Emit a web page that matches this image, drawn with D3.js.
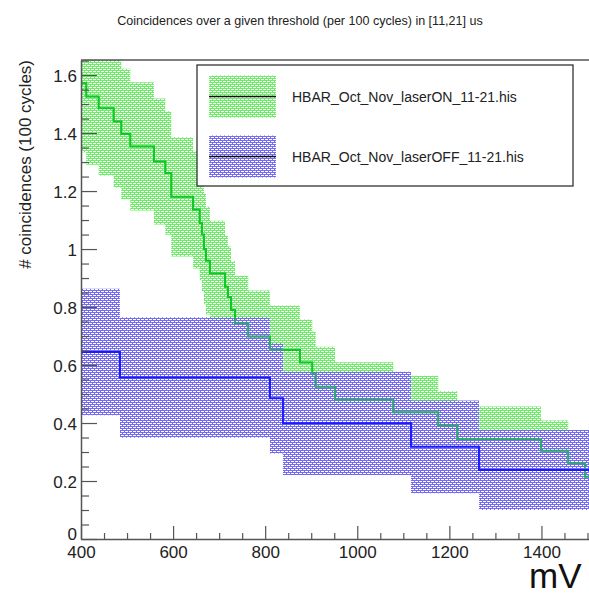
<!DOCTYPE html>
<html>
<head>
<meta charset="utf-8">
<script src="https://cdnjs.cloudflare.com/ajax/libs/d3/7.8.5/d3.min.js"></script>
<style>
  html, body { margin: 0; padding: 0; background: #ffffff; }
  svg { display: block; font-family: "Liberation Sans", Arial, Helvetica, sans-serif; }
</style>
</head>
<body>
<script>
// ---------------- DATA ----------------
const chartTitle = "Coincidences over a given threshold (per 100 cycles) in [11,21] us";
const yTitle = "# coincidences (100 cycles)";
const xTitle = "mV";
const seriesNames = ["HBAR_Oct_Nov_laserON_11-21.his", "HBAR_Oct_Nov_laserOFF_11-21.his"];

// laser ON (green): bin edges in mV, bin contents, bin errors
const onEdges = [400, 411.5, 438.4, 471.0, 487.5, 507.1, 558.5, 583.1, 596.1, 643.2, 657.8,
                 662.8, 667.1, 671.5, 680.1, 712.7, 719.2, 725.7, 734.4, 763.3, 810.4,
                 875.6, 902.3, 909.7, 951.6, 1078.2, 1175.9, 1217.2, 1398.9, 1458.2, 1494.5, 1525];
const onValues = [1.572, 1.526, 1.486, 1.440, 1.397, 1.354, 1.302, 1.262, 1.180, 1.136,
                  1.090, 1.050, 1.000, 0.960, 0.916, 0.870, 0.835, 0.790, 0.744, 0.698,
                  0.652, 0.609, 0.571, 0.525, 0.479, 0.437, 0.391, 0.345, 0.304, 0.261, 0.215];
const onErrors = [0.238, 0.235, 0.232, 0.228, 0.225, 0.221, 0.217, 0.213, 0.206, 0.203,
                  0.198, 0.195, 0.190, 0.186, 0.182, 0.177, 0.174, 0.169, 0.164, 0.159,
                  0.153, 0.148, 0.144, 0.138, 0.131, 0.126, 0.119, 0.112, 0.105, 0.097, 0.088];

// laser OFF (blue)
const offEdges = [400, 484.7, 810.4, 838.6, 1116.6, 1264.3, 1525];
const offValues = [0.645, 0.557, 0.485, 0.399, 0.318, 0.238];
const offErrors = [0.218, 0.208, 0.190, 0.178, 0.160, 0.138];

const xDomain = [400, 1525];
const yDomain = [0, 1.652];
const xMajorTicks = [400, 600, 800, 1000, 1200, 1400];
const xMinorTicks = [450, 500, 550, 650, 700, 750, 850, 900, 950, 1050, 1100, 1150, 1250, 1300, 1350, 1450, 1500];
const yMajorTicks = [0, 0.2, 0.4, 0.6, 0.8, 1.0, 1.2, 1.4, 1.6];
const yMinorTicks = [0.05, 0.1, 0.15, 0.25, 0.3, 0.35, 0.45, 0.5, 0.55, 0.65, 0.7, 0.75,
                     0.85, 0.9, 0.95, 1.05, 1.1, 1.15, 1.25, 1.3, 1.35, 1.45, 1.5, 1.55, 1.65];
const yTickLabels = ["0", "0.2", "0.4", "0.6", "0.8", "1", "1.2", "1.4", "1.6"];
const xTickLabels = ["400", "600", "800", "1000", "1200", "1400"];

// ---------------- CHART ----------------
const W = 589, H = 596;
const plot = { left: 81, right: 599, top: 60, bottom: 539 };

const svg = d3.select("body").append("svg").attr("width", W).attr("height", H);
const defs = svg.append("defs");

function makePattern(id, color) {
  const p = defs.append("pattern").attr("id", id)
    .attr("patternUnits", "userSpaceOnUse")
    .attr("width", 4).attr("height", 4);
  // coloured mesh with transparent holes (ROOT-like pattern fill)
  p.append("path")
    .attr("d", "M0,0H4V1H0Z M2,1H3V2H2Z M0,2H4V3H0Z M0,3H1V4H0Z")
    .attr("fill", color);
  return "url(#" + id + ")";
}
const greenFill = makePattern("patGreen", "rgb(110,238,104)");
const blueFill = makePattern("patBlue", "rgb(118,108,242)");

defs.append("clipPath").attr("id", "plotClip")
  .append("rect").attr("x", plot.left).attr("y", plot.top)
  .attr("width", plot.right - plot.left).attr("height", plot.bottom - plot.top);

const x = d3.scaleLinear().domain(xDomain).range([plot.left, plot.right]);
const y = d3.scaleLinear().domain(yDomain).range([plot.bottom, plot.top]);

function binPoints(edges, vals, errs) {
  const pts = vals.map((v, i) => ({ x: edges[i], v: v, e: errs[i] }));
  pts.push({ x: edges[edges.length - 1], v: vals[vals.length - 1], e: errs[errs.length - 1] });
  return pts;
}
const onPts = binPoints(onEdges, onValues, onErrors);
const offPts = binPoints(offEdges, offValues, offErrors);

const area = d3.area().curve(d3.curveStepAfter)
  .x(d => x(d.x)).y0(d => y(d.v - d.e)).y1(d => y(d.v + d.e));
const line = d3.line().curve(d3.curveStepAfter)
  .x(d => x(d.x)).y(d => y(d.v));

const g = svg.append("g").attr("clip-path", "url(#plotClip)");
g.append("path").datum(onPts).attr("d", area).attr("fill", greenFill);
g.append("path").datum(onPts).attr("d", line).attr("fill", "none")
  .attr("stroke", "#10d010").attr("stroke-width", 2);
g.append("path").datum(offPts).attr("d", area).attr("fill", blueFill);
// green line seen through the blue pattern
g.append("path").datum(onPts).attr("d", line).attr("fill", "none")
  .attr("stroke", "#10c040").attr("stroke-width", 1.8).attr("opacity", 0.55);
g.append("path").datum(offPts).attr("d", line).attr("fill", "none")
  .attr("stroke", "#1a1aff").attr("stroke-width", 2);

// frame top
svg.append("line").attr("x1", plot.left).attr("x2", W).attr("y1", plot.top).attr("y2", plot.top)
  .attr("stroke", "#555").attr("stroke-width", 1.5);

// axes
const axisColor = "#555";
const fontSize = 17;

const xAxisMajor = d3.axisBottom(x).tickValues(xMajorTicks).tickSizeInner(-13).tickSizeOuter(0)
  .tickFormat((d, i) => xTickLabels[i]).tickPadding(19);
const xAxisMinor = d3.axisBottom(x).tickValues(xMinorTicks).tickSizeInner(-6).tickSizeOuter(0).tickFormat("");
const yAxisMajor = d3.axisLeft(y).tickValues(yMajorTicks).tickSizeInner(-16).tickSizeOuter(0)
  .tickFormat((d, i) => yTickLabels[i]).tickPadding(20);
const yAxisMinor = d3.axisLeft(y).tickValues(yMinorTicks).tickSizeInner(-8).tickSizeOuter(0).tickFormat("");

function styleAxis(sel) {
  sel.select(".domain").attr("stroke", axisColor).attr("stroke-width", 1.5);
  sel.selectAll(".tick line").attr("stroke", axisColor).attr("stroke-width", 1.2);
  sel.selectAll(".tick text").attr("fill", "#222").style("font-size", fontSize + "px")
    .style("font-family", "'Liberation Sans', Arial, sans-serif");
}

const gxMinor = svg.append("g").attr("transform", `translate(0,${plot.bottom})`).call(xAxisMinor);
styleAxis(gxMinor);
gxMinor.select(".domain").remove();
const gx = svg.append("g").attr("transform", `translate(0,${plot.bottom})`).call(xAxisMajor);
styleAxis(gx);
gx.selectAll(".tick text").attr("dy", "0.71em").attr("y", 7);

const gyMinor = svg.append("g").attr("transform", `translate(${plot.left},0)`).call(yAxisMinor);
styleAxis(gyMinor);
gyMinor.select(".domain").remove();
const gy = svg.append("g").attr("transform", `translate(${plot.left},0)`).call(yAxisMajor);
styleAxis(gy);
gy.selectAll(".tick text").attr("x", -4).attr("dy", "0.36em");
gy.selectAll(".tick").filter(d => d === 0).select("text").attr("dy", "0.05em");

// title
function fitText(sel, targetWidth) {
  const len = sel.node().getComputedTextLength();
  const fs = parseFloat(sel.style("font-size"));
  sel.style("font-size", (fs * targetWidth / len) + "px");
}
const title = svg.append("text").attr("x", 300).attr("y", 25)
  .attr("text-anchor", "middle").attr("fill", "#222")
  .style("font-size", "12px").text(chartTitle);
fitText(title, 366);

// y title
svg.append("text")
  .attr("transform", `translate(31,60) rotate(-90)`)
  .attr("text-anchor", "end").attr("fill", "#222")
  .style("font-size", "17px").text(yTitle);

// x title
svg.append("text").attr("x", 529).attr("y", 588)
  .attr("fill", "#111").style("font-size", "35px").text(xTitle);

// legend
const leg = svg.append("g");
leg.append("rect").attr("x", 197).attr("y", 65).attr("width", 376).attr("height", 121)
  .attr("fill", "#fff").attr("stroke", "#333").attr("stroke-width", 1.3);
const legItems = [
  { name: seriesNames[0], fill: greenFill, cy: 96.5 },
  { name: seriesNames[1], fill: blueFill, cy: 156.5 }
];
legItems.forEach(it => {
  leg.append("rect").attr("x", 209).attr("y", it.cy - 21).attr("width", 67).attr("height", 42)
    .attr("fill", it.fill);
  leg.append("line").attr("x1", 209).attr("x2", 276).attr("y1", it.cy).attr("y2", it.cy)
    .attr("stroke", "#111").attr("stroke-width", 1.6);
  const t = leg.append("text").attr("x", 292).attr("y", it.cy).attr("dy", "0.36em")
    .attr("fill", "#222").style("font-size", "14px").text(it.name);
  if (it === legItems[0]) fitText(t, 225);
  else t.style("font-size", leg.select("text").style("font-size"));
});
</script>
</body>
</html>
